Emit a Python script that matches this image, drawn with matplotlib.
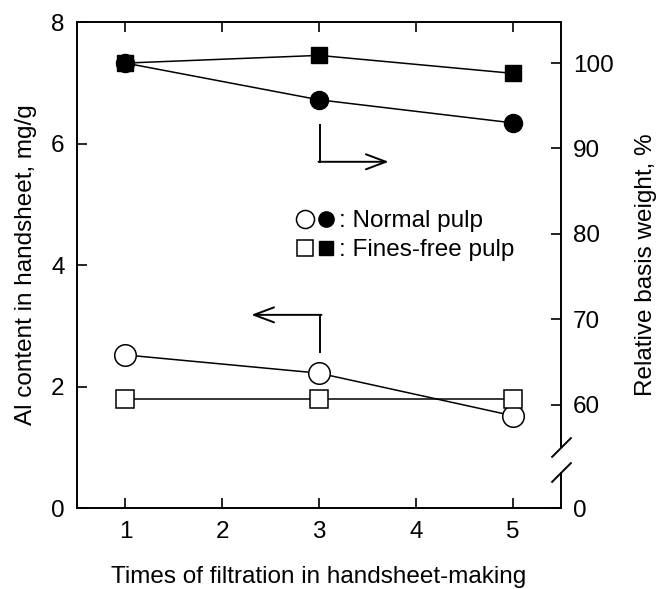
import matplotlib
matplotlib.use("Agg")
import matplotlib.pyplot as plt
from matplotlib.lines import Line2D
from matplotlib.legend_handler import HandlerTuple

plt.rcParams['font.family'] = ['Liberation Sans', 'DejaVu Sans']
plt.rcParams['font.size'] = 17.5

# filtration count
times = [1, 3, 5]

# Al content in handsheet, mg/g (left axis)
al_normal = [2.52, 2.22, 1.52]
al_fines_free = [1.80, 1.80, 1.80]

# relative basis weight, % (right axis)
bw_normal = [100.0, 95.7, 93.0]
bw_fines_free = [100.0, 100.9, 98.8]

right_ticks = [60, 70, 80, 90, 100]
right_bottom = 47.9   # where the broken right axis reads "0"
right_top = 104.8

fig = plt.figure(figsize=(6.56, 5.89), dpi=100)
ax = fig.add_axes([0.1174, 0.1375, 0.7378, 0.8250])
ax2 = ax.twinx()

lw = 1.1
ax.plot(times, al_normal, color='k', lw=lw, marker='o', ms=15.5,
        mfc='white', mec='k', mew=1.1, zorder=3)
ax.plot(times, al_fines_free, color='k', lw=lw, marker='s', ms=13.5,
        mfc='white', mec='k', mew=1.1, zorder=3)
ax2.plot(times, bw_fines_free, color='k', lw=lw, marker='s', ms=11,
         mfc='k', mec='k', zorder=3)
ax2.plot(times, bw_normal, color='k', lw=lw, marker='o', ms=13,
         mfc='k', mec='k', zorder=4)

ax.set_xlim(0.5, 5.5)
ax.set_ylim(0, 8)
ax.set_xticks([1, 2, 3, 4, 5])
ax.set_yticks([0, 2, 4, 6, 8])
ax2.set_ylim(right_bottom, right_top)
ax2.set_yticks([right_bottom] + right_ticks)
ax2.set_yticklabels(['0'] + [str(t) for t in right_ticks])

ax.tick_params(axis='both', direction='in', length=7, width=1.2, pad=9,
               top=True, right=False)
ax2.tick_params(axis='y', direction='in', length=7, width=1.2, pad=8.5)

for s in ['left', 'bottom', 'top']:
    ax.spines[s].set_linewidth(1.4)
ax.spines['right'].set_visible(False)
for s in ['left', 'bottom', 'top']:
    ax2.spines[s].set_visible(False)

# broken right axis: upper part, short stub at the bottom, two slashes
brk_hi, brk_lo = 55.1, 52.1
ax2.spines['right'].set_linewidth(1.4)
ax2.spines['right'].set_bounds(brk_hi, right_top)
ytr = ax2.get_yaxis_transform()
ax2.plot([1, 1], [right_bottom, brk_lo], color='k', lw=1.4,
         transform=ytr, clip_on=False, solid_capstyle='butt')
ax2.plot([1, 1], [brk_hi, brk_lo], ls='none', color='k',
         marker=[(-1, -1), (1, 1)], ms=14.5, mew=1.4,
         transform=ytr, clip_on=False)

ax.set_xlabel('Times of filtration in handsheet-making')
ax.set_ylabel('Al content in handsheet, mg/g')
ax2.set_ylabel('Relative basis weight, %')
ax.xaxis.set_label_coords(0.5, -0.119)
ax.yaxis.set_label_coords(-0.083, 0.5)
ax2.yaxis.set_label_coords(1.153, 0.5)

# arrows pointing to the axis each series belongs to
ax.plot([3.01, 3.01], [6.30, 5.70], color='k', lw=1.4)
ax.annotate('', xy=(3.72, 5.70), xytext=(2.995, 5.70),
            arrowprops=dict(arrowstyle='->,head_length=0.8,head_width=0.3',
                            mutation_scale=18, lw=1.4, color='k',
                            shrinkA=0, shrinkB=0))
ax.plot([3.01, 3.01], [2.57, 3.18], color='k', lw=1.4)
ax.annotate('', xy=(2.30, 3.18), xytext=(3.025, 3.18),
            arrowprops=dict(arrowstyle='->,head_length=0.8,head_width=0.3',
                            mutation_scale=18, lw=1.4, color='k',
                            shrinkA=0, shrinkB=0))

# legend: open/filled marker pairs
h_norm = (Line2D([], [], ls='none', marker='o', ms=13, mfc='white', mec='k', mew=1.1),
          Line2D([], [], ls='none', marker='o', ms=11, mfc='k', mec='k'))
h_ff = (Line2D([], [], ls='none', marker='s', ms=11.5, mfc='white', mec='k', mew=1.1),
        Line2D([], [], ls='none', marker='s', ms=9.5, mfc='k', mec='k'))
ax.legend([h_norm, h_ff], [': Normal pulp', ': Fines-free pulp'],
          handler_map={tuple: HandlerTuple(ndivide=None, pad=0.1)},
          frameon=False, loc='upper left', bbox_to_anchor=(0.43, 0.633),
          handlelength=1.7, handletextpad=0.1, labelspacing=0.3,
          borderaxespad=0, fontsize=17.5)

fig.savefig('out.png', dpi=100, facecolor='white')
